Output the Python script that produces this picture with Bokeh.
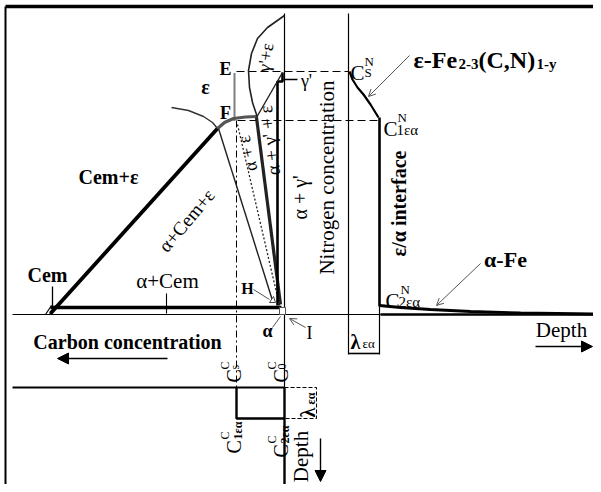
import math
from bokeh.plotting import figure
from bokeh.models import Range1d, Arrow, NormalHead, OpenHead
from bokeh.embed import file_html
from bokeh.resources import INLINE
from bokeh.core.properties import value

FONT = "Liberation Serif"

# ---------------- diagram data (diagram units, y grows downward) ----------------
# frame
frame_top_x, frame_top_y = [5, 593], [6, 6]
frame_left_x, frame_left_y = [5, 5], [6, 484]
# axes
surface_x, surface_y = [12, 380], [314, 314]
depth_axis_x, depth_axis_y = [380, 593], [314, 314]
carbon_base_x, carbon_base_y = [12, 284], [387, 387]
nitrogen_axis_x, nitrogen_axis_y = [284, 284], [13, 387]
depth_axis_c_x, depth_axis_c_y = [284, 284], [387, 484]
surface_n_x, surface_n_y = [348, 348], [13, 354]
interface_x, interface_y = [379, 379], [117, 306]
interface_low_x, interface_low_y = [379, 379], [306, 354]
lambda_n_x, lambda_n_y = [348, 379], [353, 353]
lambda_c_x, lambda_c_y = [284, 316, 316, 284], [387, 387, 418, 418]
carbon_step_x, carbon_step_y = [236, 236, 284], [387, 418, 418]
cs_c_guide_x, cs_c_guide_y = [236, 236], [120, 387]
cs_n_guide_x, cs_n_guide_y = [236, 348], [71, 71]
c1_n_guide_x, c1_n_guide_y = [237, 379], [120, 120]
e_guide_x, e_guide_y = [234, 234], [73, 120]

# Fe-C-N phase diagram boundaries
cem_eps_x, cem_eps_y = [50, 217], [313, 128]
alpha_cem_x, alpha_cem_y = [50, 281], [307, 307]
eps_bound_x, eps_bound_y = [171, 188, 203, 212, 217], [107, 110, 116, 122, 128]
f_curve_x, f_curve_y = [217, 224, 233, 245, 256], [128, 122, 118, 116.5, 116]
ace_bound_x, ace_bound_y = [218, 272], [128, 300]
ae_dotted_x, ae_dotted_y = [237, 279], [124, 305]
age_bound_x, age_bound_y = [256, 280], [117, 304]
gamma_x, gamma_y = [277, 277, 282, 282], [305, 81, 81, 72]
ge_diag_x, ge_diag_y = [282, 256], [72, 117]
ge_curve_x = [284, 267, 257, 251, 248, 249, 252, 257]
ge_curve_y = [15, 27, 38, 53, 70, 87, 102, 117]
gamma_lead_x, gamma_lead_y = [283, 297], [79, 79]
cem_tick_x, cem_tick_y = [52, 52], [286, 306]
cem_hatch_xs, cem_hatch_ys = [[45, 51], [49, 55]], [[314, 305], [314, 305]]
acem_tick_x, acem_tick_y = [166, 166], [293, 313]
h_tri_x, h_tri_y = [269, 275, 273], [302, 302, 296]
h_lead_x, h_lead_y = [253, 269], [289, 299]
alpha_box_x, alpha_box_y = [282], [310.5]
alpha_lead_x, alpha_lead_y = [272, 280], [327, 316]

# nitrogen depth profile
cs_n_curve_x = [349, 352, 357, 363, 370, 378]
cs_n_curve_y = [71, 79, 87, 94, 104, 117]
afe_curve_x = [379, 400, 430, 470, 520, 593]
afe_curve_y = [305, 307, 309, 311, 312.5, 313.5]

# arrows: (x_start, y_start, x_end, y_end)
arrows_filled = [(535, 346, 592, 346), (167, 358, 57, 358), (320, 438, 320, 481)]
arrows_open = [(409, 55, 368, 96), (480, 263, 436, 305), (305, 327, 289, 318)]

# labels
simple_labels = ["Cem+ε", "α+Cem+ε", "Cem", "α+Cem", "ε", "E", "F", "H", "α", "I",
                 "γ'+ε", "α + γ' + ε", "α + ε", "α + γ'", "γ'",
                 "Nitrogen concentration", "ε/α interface", "Carbon concentration",
                 "α-Fe", "Depth", "Depth"]
# layout for simple labels: x, y, angle, size, bold
simple_layout = [
    (108, 176, 0, 20, True), (186, 220, 50, 19, False), (47, 274, 0, 20, True),
    (167, 280, 0, 21, False), (205, 86, 0, 20, True), (225, 68, 0, 18, True),
    (225, 112, 0, 18, True), (247, 288, 0, 16, True), (267, 330, 0, 18, True),
    (309, 332, 0, 18, False), (265, 57, 82, 18, False), (269, 140, 97, 19, False),
    (247, 153, 103, 18, False), (299, 197, 90, 20, False), (306, 80, 0, 18, False),
    (326, 177, 90, 21, False), (398, 203, 90, 20, True), (127, 341, 0, 20, True),
    (505, 259, 0, 22, True), (561, 329, 0, 21, False), (300, 456, 90, 21, False),
]

# composite labels: anchor x, y, angle; parts: (text, u, v, size, bold)
composite = [
    ((350, 72, 0), [("C", 0, 0, 21, False), ("N", 14, 11, 13, False), ("S", 14, 0, 13, False)]),
    ((383, 128, 0), [("C", 0, 0, 21, False), ("N", 14, 11, 13, False), ("1εα", 13, -1, 15, False)]),
    ((385, 300, 0), [("C", 0, 0, 21, False), ("N", 15, 11, 13, False), ("2εα", 13, -1, 15, False)]),
    ((413, 59, 0), [("ε-Fe", 0, 0, 24, True), ("2-3", 45, -4, 15, True),
                    ("(C,N)", 65, 0, 24, True), ("1-y", 123, -4, 15, True)]),
    ((350, 341, 0), [("λ", 0, 0, 20, True), ("εα", 12, -2, 13, False)]),
    ((233, 382, 90), [("C", 0, 0, 20, False), ("C", 13, 9, 12, False), ("s", 13, -1, 12, False)]),
    ((280, 382, 90), [("C", 0, 0, 20, False), ("C", 13, 9, 12, False), ("0", 13, -1, 12, False)]),
    ((233, 453, 90), [("C", 0, 0, 20, False), ("C", 14, 9, 12, False), ("1εα", 14, -4, 12, True)]),
    ((280, 457, 90), [("C", 0, 0, 20, False), ("C", 14, 9, 12, False), ("2εα", 14, -4, 12, True)]),
    ((307, 417, 90), [("λ", 0, 0, 20, True), ("εα", 13, -3, 12, True)]),
]

# ---------------- figure ----------------
p = figure(width=593, height=484, x_range=Range1d(0, 593), y_range=Range1d(484, 0),
           output_backend="svg", toolbar_location=None, min_border=0,
           x_axis_type=None, y_axis_type=None)
p.grid.visible = False
p.outline_line_color = None
p.background_fill_color = "white"


def ln(x, y, w=1.2, color="black", dash="solid"):
    p.line(x, y, line_width=w, line_color=color, line_dash=dash)


ln(frame_top_x, frame_top_y, 3.5)
ln(frame_left_x, frame_left_y, 2)
ln(surface_x, surface_y, 1.2)
ln(depth_axis_x, depth_axis_y, 2.4)
ln(carbon_base_x, carbon_base_y, 2.2)
ln(nitrogen_axis_x, nitrogen_axis_y, 1.2)
ln(depth_axis_c_x, depth_axis_c_y, 2.4)
ln(surface_n_x, surface_n_y, 1.2)
ln(interface_x, interface_y, 2.6)
ln(interface_low_x, interface_low_y, 1.2)
ln(lambda_n_x, lambda_n_y, 1.6)
ln(lambda_c_x, lambda_c_y, 1, dash="4 2")
ln(carbon_step_x, carbon_step_y, 2.4)
ln(cs_c_guide_x, cs_c_guide_y, 1, dash="7 3 2 3")
ln(cs_n_guide_x, cs_n_guide_y, 1, dash="8 4")
ln(c1_n_guide_x, c1_n_guide_y, 1, dash="8 4")
ln(e_guide_x, e_guide_y, 2, dash="1 1")

ln(cem_eps_x, cem_eps_y, 3.8)
ln(alpha_cem_x, alpha_cem_y, 3.6)
ln(eps_bound_x, eps_bound_y, 1.4, "#333333")
ln(f_curve_x, f_curve_y, 3.2, "#555555")
ln(ace_bound_x, ace_bound_y, 1.4, "#222222")
ln(ae_dotted_x, ae_dotted_y, 1.3, "#222222", "2 2")
ln(age_bound_x, age_bound_y, 3.2, "#222222")
ln(gamma_x, gamma_y, 2.6)
ln(ge_diag_x, ge_diag_y, 1.4, "#222222")
ln(ge_curve_x, ge_curve_y, 1.6, "#222222")
ln(gamma_lead_x, gamma_lead_y, 1.6)
ln(cem_tick_x, cem_tick_y, 1.3)
p.multi_line(cem_hatch_xs, cem_hatch_ys, line_width=1.2, line_color="black")
ln(acem_tick_x, acem_tick_y, 1.1)
p.patch(h_tri_x, h_tri_y, fill_color="white", line_color="#444444", line_width=1)
ln(h_lead_x, h_lead_y, 1, "#555555")
p.rect(alpha_box_x, alpha_box_y, width=6, height=7, fill_color="white",
       line_color="#555555", line_width=1)
ln(alpha_lead_x, alpha_lead_y, 1, "#555555")

ln(cs_n_curve_x, cs_n_curve_y, 2.2)
ln(afe_curve_x, afe_curve_y, 2.8)

for xs, ys, xe, ye in arrows_filled:
    p.add_layout(Arrow(end=NormalHead(size=11, fill_color="black", line_color="black"),
                       x_start=xs, y_start=ys, x_end=xe, y_end=ye,
                       line_width=1.4, line_color="black"))
for xs, ys, xe, ye in arrows_open:
    p.add_layout(Arrow(end=OpenHead(size=7, line_color="#555555", line_width=1),
                       x_start=xs, y_start=ys, x_end=xe, y_end=ye,
                       line_width=1, line_color="#555555"))


def txt(x, y, s, size, angle=0, bold=False, align="center", baseline="middle"):
    p.text(x=[x], y=[y], text=[s], angle=math.radians(angle),
           text_font=value(FONT), text_font_size=f"{size}px",
           text_font_style="bold" if bold else "normal",
           text_align=align, text_baseline=baseline, text_color="black")


for s, (x, y, a, size, bold) in zip(simple_labels, simple_layout):
    txt(x, y, s, size, a, bold)

for (x0, y0, a), parts in composite:
    ar = math.radians(a)
    for s, u, v, size, bold in parts:
        x = x0 + u * math.cos(ar) - v * math.sin(ar)
        y = y0 - u * math.sin(ar) - v * math.cos(ar)
        txt(x, y, s, size, a, bold, align="left", baseline="alphabetic")

open("out.html", "w").write(file_html(p, INLINE))
